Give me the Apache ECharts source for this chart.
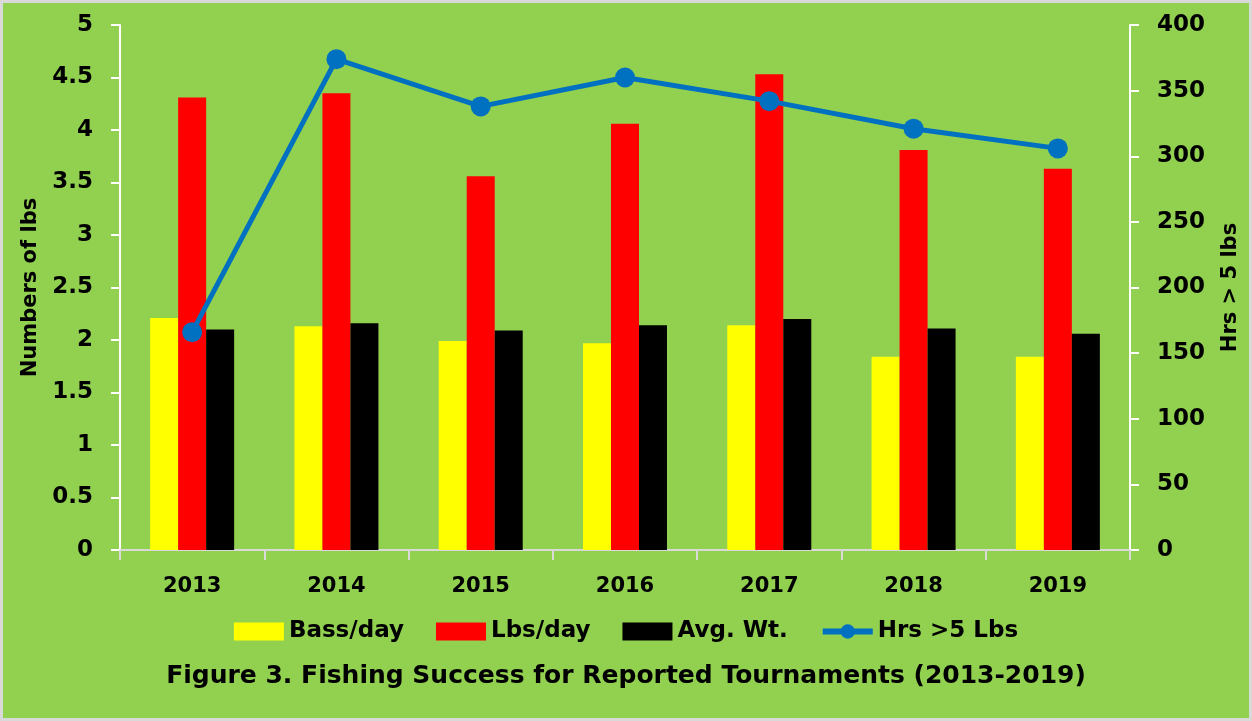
<!DOCTYPE html>
<html>
<head>
<meta charset="utf-8">
<script src="https://cdn.jsdelivr.net/npm/echarts@6/dist/echarts.min.js"></script>
<style>
  html, body { margin: 0; padding: 0; background: #fff; }
  #chart { width: 1246px; height: 715px; border: 3px solid #d9d9d9; background: #92d050; }
</style>
</head>
<body>
<div id="chart"></div>
<script>
  // data
  const years = ['2013', '2014', '2015', '2016', '2017', '2018', '2019'];
  const bassPerDay = [2.21, 2.13, 1.99, 1.97, 2.14, 1.84, 1.84];
  const lbsPerDay = [4.31, 4.35, 3.56, 4.06, 4.53, 3.81, 3.63];
  const avgWt = [2.10, 2.16, 2.09, 2.14, 2.20, 2.11, 2.06];
  const hrsOver5 = [166, 374, 338, 360, 342, 321, 306];

  const font = "'Comic Sans MS', 'DejaVu Sans', sans-serif";
  const myChart = echarts.init(document.getElementById('chart'));

  const option = {
    animation: false,
    backgroundColor: '#92d050',
    title: {
      text: 'Figure 3. Fishing Success for Reported Tournaments (2013-2019)',
      left: 'center',
      top: 656,
      textStyle: { fontFamily: font, fontSize: 25, fontWeight: 'bold', color: '#000' },
    },
    legend: {
      top: 612,
      left: 'center',
      itemWidth: 50,
      itemHeight: 18,
      itemGap: 32,
      textStyle: { fontFamily: font, fontSize: 23, fontWeight: 'bold', color: '#000' },
      data: [
        { name: 'Bass/day', icon: 'rect' },
        { name: 'Lbs/day', icon: 'rect' },
        { name: 'Avg. Wt.', icon: 'rect' },
        { name: 'Hrs >5 Lbs', lineStyle: { width: 6 } },
      ],
    },
    grid: { left: 117, right: 112, top: 22, bottom: 168, containLabel: false },
    xAxis: {
      type: 'category',
      data: years,
      axisLine: { lineStyle: { color: '#d9d9d9', width: 2 } },
      axisTick: { show: true, length: 10, lineStyle: { color: '#d9d9d9', width: 2 } },
      axisLabel: { fontFamily: font, fontSize: 21, fontWeight: 'bold', color: '#000', margin: 26 },
    },
    yAxis: [
      {
        type: 'value',
        min: 0, max: 5, interval: 0.5,
        name: 'Numbers of lbs',
        nameLocation: 'middle',
        nameGap: 75,
        nameTextStyle: { fontFamily: font, fontSize: 21, fontWeight: 'bold', color: '#000' },
        axisLine: { show: true, lineStyle: { color: '#fff', width: 2 } },
        axisTick: { show: true, length: 9, lineStyle: { color: '#fff', width: 2 } },
        splitLine: { show: false },
        axisLabel: { fontFamily: font, fontSize: 23, fontWeight: 'bold', color: '#000', margin: 27 },
      },
      {
        type: 'value',
        min: 0, max: 400, interval: 50,
        name: 'Hrs > 5 lbs',
        nameLocation: 'middle',
        nameGap: 90,
        nameRotate: 90,
        nameTextStyle: { fontFamily: font, fontSize: 21, fontWeight: 'bold', color: '#000' },
        axisLine: { show: true, lineStyle: { color: '#fff', width: 2 } },
        axisTick: { show: true, length: 9, lineStyle: { color: '#fff', width: 2 } },
        splitLine: { show: false },
        axisLabel: { fontFamily: font, fontSize: 23, fontWeight: 'bold', color: '#000', margin: 27 },
      },
    ],
    series: [
      {
        name: 'Bass/day', type: 'bar', data: bassPerDay,
        barWidth: 28, barGap: '0%',
        itemStyle: { color: '#ffff00' },
      },
      {
        name: 'Lbs/day', type: 'bar', data: lbsPerDay,
        barWidth: 28, barGap: '0%',
        itemStyle: { color: '#ff0000' },
      },
      {
        name: 'Avg. Wt.', type: 'bar', data: avgWt,
        barWidth: 28, barGap: '0%',
        itemStyle: { color: '#000000' },
      },
      {
        name: 'Hrs >5 Lbs', type: 'line', yAxisIndex: 1, data: hrsOver5,
        symbol: 'circle', symbolSize: 20,
        lineStyle: { color: '#0070c0', width: 5 },
        itemStyle: { color: '#0070c0' },
        z: 5,
      },
    ],
  };

  myChart.setOption(option, true);
  window.onresize = function() {
    myChart.resize();
  };
</script>
</body>
</html>
